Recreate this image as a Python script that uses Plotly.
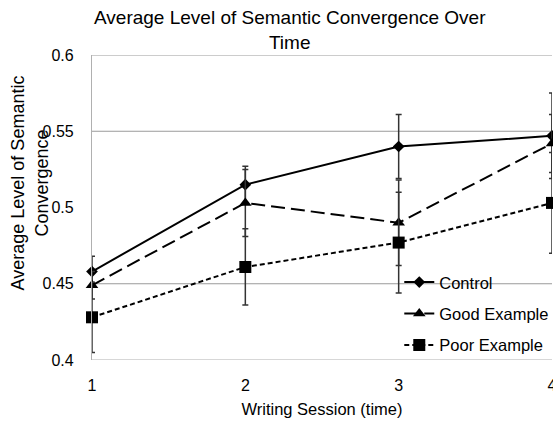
import plotly.graph_objects as go

sessions = [1, 2, 3, 4]
control = [0.458, 0.515, 0.540, 0.547]
control_err = [0.010, 0.012, 0.021, 0.028]
good = [0.449, 0.503, 0.490, 0.542]
good_err = [0.009, 0.022, 0.028, 0.019]
poor = [0.428, 0.461, 0.477, 0.503]
poor_err = [0.023, 0.025, 0.033, 0.033]
y_ticks = [0.4, 0.45, 0.5, 0.55, 0.6]
grid_vals = [0.45, 0.55, 0.6]

FONT = "Arial, Liberation Sans, sans-serif"

fig = go.Figure()

def add(name, y, err, symbol, msize, dash, group):
    fig.add_trace(go.Scatter(
        x=sessions, y=y, name=name, mode="lines+markers",
        line=dict(color="black", width=2, dash=dash),
        marker=dict(symbol=symbol, size=msize, color="black"),
        error_y=dict(type="data", array=err, visible=True, color="#333333",
                     thickness=1.5, width=3),
        legendgroup=group,
        cliponaxis=False,
    ))

add("Control", control, control_err, "diamond", 9, "solid", "a")
add("Good Example", good, good_err, "triangle-up", 11, "14px,6px", "b")
add("Poor Example", poor, poor_err, "square", 12, "5px,3px", "c")

shapes = [dict(type="line", xref="paper", x0=0, x1=1, yref="y", y0=v, y1=v,
               line=dict(color="#9a9a9a", width=1.2), layer="below")
          for v in grid_vals]
shapes.append(dict(type="line", xref="paper", x0=0, x1=1, yref="y", y0=0.4, y1=0.4,
                   line=dict(color="#b0b0b0", width=1.2), layer="below"))

fig.update_layout(
    width=553, height=425,
    margin=dict(l=92, r=1, t=55, b=65, autoexpand=False),
    paper_bgcolor="white", plot_bgcolor="white",
    font=dict(family=FONT, color="black", size=16),
    showlegend=True,
    legend=dict(x=0.668, y=0.312, xanchor="left", yanchor="top",
                bgcolor="rgba(0,0,0,0)", font=dict(size=16.5, family=FONT),
                traceorder="grouped", tracegroupgap=7),
    shapes=shapes,
    annotations=[
        dict(text="Average Level of Semantic<br>Convergence",
             textangle=-90, xref="paper", yref="paper",
             x=-0.135, y=0.582, xanchor="center", yanchor="middle",
             showarrow=False, font=dict(size=18, family=FONT)),
        dict(text="Average Level of Semantic Convergence Over<br>Time",
             xref="paper", yref="paper", x=(290 - 92) / 460, y=1 + (55 - 5) / 305,
             xanchor="center", yanchor="top", showarrow=False,
             font=dict(size=19, family=FONT)),
    ],
)
fig.update_xaxes(range=[1, 4], tickvals=sessions, showgrid=False, zeroline=False,
                 showline=False, ticks="", ticklabelstandoff=14,
                 ticklabeloverflow="allow", automargin=False,
                 title=dict(text="Writing Session (time)", standoff=10,
                            font=dict(size=16.5)))
fig.update_yaxes(range=[0.4, 0.6], tickvals=y_ticks,
                 ticktext=["0.4", "0.45", "0.5", "0.55", "0.6"],
                 showgrid=False, zeroline=False, showline=True,
                 linecolor="#b0b0b0", linewidth=1.2, mirror=False,
                 ticks="", ticklabelstandoff=14, automargin=False)

fig.write_html("out.html")
